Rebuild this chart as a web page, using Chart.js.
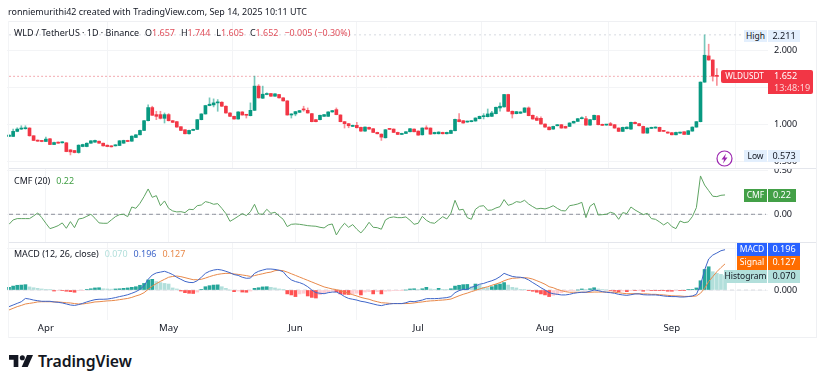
<!DOCTYPE html>
<html>
<head>
<meta charset="utf-8">
<script src="https://cdn.jsdelivr.net/npm/chart.js@4/dist/chart.umd.min.js"></script>
<style>
body { margin:0; background:#fff; width:825px; height:384px; overflow:hidden; position:relative; font-family:"Noto Sans",sans-serif; color:#131722; }
canvas { position:absolute; left:0; }
.t { position:absolute; white-space:nowrap; font-size:8.95px; line-height:12px; }
.up { color:#e0505c; }
.line { position:absolute; background:#e4e6ec; }
.b { position:absolute; font-size:9.1px; line-height:12px; text-align:center; white-space:nowrap; }
.n { font-size:8.5px; }
</style>
</head>
<body>
<canvas id="cPrice" width="825" height="147" style="top:21px"></canvas>
<canvas id="cCmf" width="825" height="73" style="top:169px"></canvas>
<canvas id="cMacd" width="825" height="95" style="top:243px"></canvas>

<div class="line" style="left:8px;top:21px;width:809px;height:1px;background:#eff0f3"></div>
<div class="line" style="left:8px;top:168px;width:809px;height:1px"></div>
<div class="line" style="left:8px;top:242px;width:809px;height:1px"></div>
<div class="line" style="left:8px;top:337px;width:809px;height:1px;background:#eff0f3"></div>
<div class="line" style="left:8px;top:21px;width:1px;height:317px;background:#f3f4f6"></div>
<div class="line" style="left:816px;top:21px;width:1px;height:317px;background:#eff0f3"></div>

<div class="t" style="left:8px;top:6px">ronniemurithi42 created with TradingView.com, Sep 14, 2025 10:11 UTC</div>
<div class="t" style="left:14px;top:27px">WLD / TetherUS · 1D · Binance<span style="margin-left:6px">O</span><span class="up">1.657</span><span style="margin-left:6px">H</span><span class="up">1.744</span><span style="margin-left:6px">L</span><span class="up">1.605</span><span style="margin-left:6px">C</span><span class="up">1.652</span><span class="up" style="margin-left:6px">−0.005 (−0.30%)</span></div>
<div class="t" style="left:14px;top:175px">CMF (20)<span style="margin-left:6px;color:#43a047">0.22</span></div>
<div class="t" style="left:14px;top:248px">MACD (12, 26, close)<span style="margin-left:6px;color:#b2dfdb">0.070</span><span style="margin-left:6px;color:#3f66c9">0.196</span><span style="margin-left:6px;color:#e8894a">0.127</span></div>

<div class="b n" style="left:744px;top:30px;width:23px;height:12px;background:#e3effd">High</div>
<div class="b" style="left:768px;top:30px;width:32px;height:12px;background:#e3effd">2.211</div>
<div class="b n" style="left:744px;top:150px;width:23px;height:12px;background:#e3effd">Low</div>
<div class="b" style="left:768px;top:150px;width:32px;height:12px;background:#e3effd">0.573</div>
<div class="b n" style="left:721px;top:70px;width:47px;height:13px;background:#f23645;color:#fff;border-radius:2px 0 0 2px;font-size:8.2px">WLDUSDT</div>
<div class="b" style="left:768px;top:70px;width:45px;height:24px;background:#f23645;color:#fff;border-radius:0 2px 2px 0;text-align:left"><div style="padding-left:6px">1.652</div><div style="padding-left:6px;color:#fcd3d6">13:48:19</div></div>
<div class="b n" style="left:744px;top:189px;width:23px;height:13px;background:#43a047;color:#fff">CMF</div>
<div class="b" style="left:768px;top:189px;width:28px;height:13px;background:#43a047;color:#fff">0.22</div>
<div class="b n" style="left:737px;top:243px;width:30px;height:13px;background:#2962ff;color:#fff">MACD</div>
<div class="b" style="left:768px;top:243px;width:32px;height:13px;background:#2962ff;color:#fff">0.196</div>
<div class="b n" style="left:737px;top:256px;width:30px;height:14px;background:#ff6d00;color:#fff">Signal</div>
<div class="b" style="left:768px;top:256px;width:32px;height:14px;background:#ff6d00;color:#fff">0.127</div>
<div class="b n" style="left:724px;top:270px;width:43px;height:13px;background:#b2dfdb">Histogram</div>
<div class="b" style="left:768px;top:270px;width:32px;height:13px;background:#b2dfdb">0.070</div>

<svg style="position:absolute;left:716px;top:150px" width="17" height="17" viewBox="0 0 17 17">
  <circle cx="8.5" cy="8.5" r="7.5" fill="#fff" stroke="#9c27b0" stroke-width="1.2"/>
  <path d="M10 3.5 5.5 9.5h2.6L7 13.5l4.5-6H8.9z" fill="#9c27b0"/>
</svg>
<svg style="position:absolute;left:9px;top:354px" width="24" height="14" viewBox="0 0 36 18">
  <path d="M0 0h14v18H7V7H0z" fill="#131722"/><circle cx="20" cy="4" r="3.8" fill="#131722"/><path d="M27 0h9l-8 18h-9z" fill="#131722"/>
</svg>
<div class="t" style="left:38px;top:350px;font-size:15.8px;line-height:22px;font-weight:600;letter-spacing:-0.1px">TradingView</div>

<script>
// values, one entry per daily candle
const opens = [
  .842,.842,.910,.941,.946,.955,.851,.792,.788,.774,
  .810,.733,.765,.756,.756,.661,.652,.625,.706,.706,
  .751,.765,.778,.751,.724,.715,.715,.720,.751,.788,
  .778,.828,.864,.923,1.054,1.231,1.136,1.136,1.086,1.136,
  1.054,1.041,.973,.932,.878,.923,.937,1.068,1.145,1.258,
  1.267,1.294,1.303,1.249,1.158,1.113,1.077,1.172,1.136,1.122,
  1.194,1.520,1.357,1.407,1.420,1.384,1.407,1.362,1.321,1.131,
  1.145,1.167,1.208,1.194,1.149,1.068,1.068,1.113,1.113,1.172,
  1.203,1.131,1.041,1.014,.977,.991,.964,.914,.964,.946,
  .896,.873,.824,.946,.941,.896,.869,.882,.905,.941,
  .914,.864,.959,.955,.878,.878,.896,.878,.882,.919,
  1.068,1.054,1.036,1.041,1.050,1.081,1.108,1.108,1.113,1.149,
  1.226,1.240,1.407,1.181,1.149,1.154,1.167,1.226,1.127,1.090,
  1.086,1.009,.968,.941,.986,1.000,.977,.977,1.023,1.045,
  1.081,1.081,.995,1.068,1.122,1.005,.995,1.014,1.000,.955,
  .910,.946,.941,1.032,1.014,.977,.887,.950,.955,.964,
  .919,.901,.892,.864,.887,.905,.869,.914,.968,1.041,
  1.574,1.927,1.872,1.657
];
const highs = [
  .865,.941,.959,.986,.986,.960,.853,.795,.790,.833,
  .815,.765,.768,.772,.760,.665,.655,.730,.738,.755,
  .787,.792,.781,.754,.727,.718,.732,.787,.792,.791,
  .850,.868,.927,1.058,1.267,1.249,1.181,1.181,1.158,1.150,
  1.058,1.045,.976,.936,.927,.940,1.072,1.149,1.262,1.362,
  1.348,1.339,1.310,1.253,1.162,1.117,1.176,1.176,1.140,1.294,
  1.655,1.540,1.520,1.430,1.424,1.420,1.411,1.366,1.325,1.149,
  1.180,1.194,1.249,1.226,1.153,1.072,1.131,1.140,1.176,1.194,
  1.226,1.135,1.045,1.018,.995,1.032,.968,.972,.968,.950,
  .900,.877,.936,.950,.945,.900,.886,.909,.950,.945,
  .918,.959,.986,.959,.900,.905,.900,.900,.927,1.076,
  1.149,1.058,1.049,1.058,1.094,1.117,1.149,1.212,1.180,1.239,
  1.294,1.411,1.411,1.185,1.180,1.176,1.230,1.240,1.131,1.113,
  1.105,1.013,.972,.981,1.004,1.004,.981,1.027,1.049,1.085,
  1.105,1.113,1.072,1.131,1.126,1.009,1.004,1.032,1.004,.959,
  .968,.972,1.036,1.040,1.018,.981,.959,.968,.972,.968,
  .923,.905,.896,.900,.900,.909,.923,.972,1.045,1.578,
  2.211,2.085,1.876,1.755
];
const lows = [
  .838,.838,.905,.935,.940,.845,.785,.775,.770,.770,
  .730,.730,.748,.752,.635,.593,.620,.616,.702,.702,
  .748,.762,.748,.712,.703,.699,.712,.717,.748,.771,
  .775,.825,.861,.920,1.050,1.124,1.068,1.077,1.023,1.050,
  1.029,.965,.920,.875,.874,.920,.934,1.065,1.142,1.254,
  1.240,1.181,1.245,1.155,1.110,1.074,1.073,1.128,1.090,1.118,
  1.190,1.358,1.352,1.403,1.380,1.380,1.358,1.318,1.128,1.090,
  1.120,1.163,1.181,1.155,1.038,1.038,1.064,1.110,1.110,1.168,
  1.133,1.038,.955,.959,.974,.956,.911,.911,.938,.893,
  .875,.788,.820,.934,.893,.866,.866,.878,.902,.902,
  .857,.860,.938,.870,.875,.875,.875,.875,.878,.915,
  1.038,1.020,1.033,1.038,1.046,1.078,1.077,1.104,1.110,1.145,
  1.181,1.236,1.178,1.090,1.146,1.150,1.163,1.119,1.074,1.056,
  1.006,.965,.929,.938,.983,.952,.952,.974,1.020,1.042,
  1.078,.992,.991,1.065,.997,.988,.992,.988,.952,.907,
  .907,.943,.938,1.011,.983,.884,.884,.947,.952,.907,
  .907,.884,.861,.861,.884,.866,.866,.911,.965,1.037,
  1.570,1.868,1.588,1.529
];
const closes = [
  .860,.910,.941,.955,.959,.851,.788,.778,.774,.806,
  .733,.760,.751,.769,.638,.634,.625,.724,.733,.751,
  .783,.788,.751,.715,.706,.702,.729,.783,.788,.774,
  .846,.864,.923,1.054,1.231,1.127,1.113,1.086,1.136,1.054,
  1.032,.968,.923,.878,.923,.937,1.068,1.145,1.258,1.276,
  1.294,1.303,1.249,1.158,1.113,1.077,1.172,1.131,1.127,1.194,
  1.520,1.362,1.411,1.420,1.384,1.416,1.362,1.321,1.131,1.145,
  1.176,1.190,1.199,1.158,1.041,1.041,1.127,1.136,1.172,1.190,
  1.136,1.041,1.014,.986,.991,.959,.914,.968,.941,.896,
  .878,.833,.932,.937,.896,.869,.882,.905,.946,.905,
  .860,.955,.941,.873,.896,.901,.878,.896,.923,1.072,
  1.041,1.023,1.045,1.054,1.090,1.113,1.118,1.145,1.158,1.235,
  1.249,1.407,1.181,1.145,1.176,1.172,1.226,1.122,1.077,1.059,
  1.009,.968,.932,.977,1.000,.955,.955,1.023,1.045,1.081,
  1.090,.995,1.068,1.127,1.000,.991,1.000,.991,.955,.910,
  .964,.968,1.032,1.014,.986,.887,.955,.964,.968,.910,
  .910,.887,.864,.896,.896,.869,.919,.968,1.041,1.574,
  1.936,1.872,1.655,1.652
];
const cmfValues = [
  -.114,-.064,-.049,-.049,-.049,-.049,-.019,.015,-.038,-.102,
  -.163,-.148,-.129,-.098,-.159,-.083,-.152,-.053,-.045,-.023,
  0,-.045,-.098,-.102,-.102,-.064,-.027,-.004,0,-.027,
  .083,.068,.125,.201,.288,.193,.212,.098,.152,.068,
  .038,.027,.030,.019,.057,.053,.098,.106,.144,.133,
  .114,.121,.068,.008,-.080,-.053,-.023,.008,-.015,.030,
  .114,.004,0,.057,.011,.023,-.019,-.057,-.140,-.114,
  -.110,-.114,-.121,-.129,-.133,-.136,-.148,-.155,-.121,-.110,
  -.235,-.159,-.102,-.148,-.117,-.170,-.212,-.159,-.091,-.148,
  -.152,-.170,-.064,-.038,-.030,-.038,-.038,-.030,-.068,-.114,
  -.102,-.023,-.068,-.095,-.102,-.064,-.027,-.053,.011,.159,
  .049,.057,-.038,-.057,.057,.091,.098,.045,.049,.072,
  .087,.167,.102,.117,.144,.136,.159,.117,.087,.061,
  .068,.061,.076,.098,.068,.042,.038,.098,.106,.117,
  .136,-.038,.091,.125,-.008,-.004,0,.023,.008,-.057,
  .019,.008,.083,.049,.023,-.004,.011,-.049,-.057,-.087,
  -.121,-.091,-.140,-.163,-.076,-.095,-.087,-.027,.076,.436,
  .333,.269,.205,.201,.216,.220
];
const macdValues = [
  -.081,-.073,-.065,-.057,-.041,-.044,-.049,-.052,-.055,-.055,
  -.055,-.058,-.060,-.063,-.068,-.073,-.075,-.071,-.065,-.058,
  -.052,-.047,-.045,-.045,-.044,-.041,-.037,-.032,-.028,-.023,
  -.016,-.008,.003,.021,.052,.073,.083,.087,.091,.084,
  .075,.062,.052,.042,.037,.036,.045,.062,.081,.091,
  .097,.100,.097,.091,.084,.075,.071,.062,.057,.058,
  .081,.091,.097,.102,.102,.100,.096,.089,.065,.049,
  .041,.036,.028,.016,0,-.013,-.016,-.018,-.013,-.010,
  -.010,-.019,-.032,-.041,-.045,-.049,-.055,-.058,-.063,-.068,
  -.073,-.076,-.071,-.068,-.066,-.066,-.066,-.062,-.055,-.057,
  -.053,-.049,-.042,-.042,-.042,-.041,-.039,-.037,-.032,-.013,
  -.003,.003,.003,.013,.019,.028,.032,.039,.045,.053,
  .065,.081,.073,.066,.063,.062,.058,.049,.036,.024,
  .011,0,-.013,-.018,-.021,-.024,-.024,-.021,-.016,-.013,
  -.011,-.011,-.006,0,-.003,-.008,-.011,-.013,-.016,-.021,
  -.024,-.026,-.023,-.019,-.019,-.023,-.024,-.024,-.024,-.026,
  -.029,-.031,-.032,-.032,-.034,-.034,-.032,-.029,-.021,.024,
  .097,.151,.170,.180,.191,.196
];
const signalValues = [
  -.097,-.089,-.081,-.075,-.068,-.065,-.062,-.058,-.057,-.057,
  -.057,-.058,-.058,-.060,-.062,-.063,-.066,-.068,-.068,-.065,
  -.062,-.058,-.057,-.055,-.053,-.052,-.050,-.047,-.044,-.041,
  -.036,-.029,-.023,-.013,.003,.019,.031,.042,.052,.062,
  .066,.068,.065,.060,.055,.050,.050,.052,.058,.065,
  .071,.076,.079,.081,.081,.078,.076,.073,.070,.066,
  .070,.075,.079,.084,.087,.094,.096,.094,.087,.079,
  .071,.063,.055,.047,.039,.031,.023,.015,.010,.005,
  .002,-.003,-.010,-.016,-.023,-.029,-.036,-.041,-.045,-.052,
  -.057,-.062,-.063,-.065,-.066,-.066,-.066,-.066,-.065,-.063,
  -.060,-.058,-.055,-.053,-.052,-.050,-.049,-.047,-.044,-.036,
  -.028,-.021,-.015,-.008,-.002,.005,.011,.016,.023,.029,
  .036,.045,.052,.057,.058,.060,.060,.058,.053,.045,
  .037,.028,.016,.011,.003,-.003,-.008,-.011,-.011,-.011,
  -.011,-.011,-.011,-.010,-.010,-.010,-.010,-.011,-.011,-.013,
  -.016,-.018,-.018,-.018,-.018,-.019,-.019,-.021,-.021,-.023,
  -.024,-.026,-.028,-.029,-.029,-.031,-.031,-.031,-.029,-.016,
  .008,.041,.065,.089,.109,.127
];
const histValues = [
  .013,.019,.023,.024,.026,.015,.011,.008,.005,.003,
  .002,-.005,-.002,-.002,-.006,-.008,-.011,-.003,-.002,.003,
  .006,.010,.011,.006,.005,.004,.005,.006,.008,.010,
  .013,.016,.023,.032,.049,.052,.041,.036,.032,.029,
  .010,.005,-.005,-.013,-.016,-.017,-.010,.003,.016,.021,
  .024,.025,.016,.008,0,-.008,-.005,-.010,-.011,-.005,
  .008,.011,.015,.016,.013,.010,.005,.002,-.019,-.024,
  -.032,-.019,-.016,-.029,-.036,-.039,-.023,-.016,-.010,-.005,
  -.008,-.019,-.021,-.022,-.019,-.016,-.024,-.010,-.008,-.019,
  -.008,-.019,-.006,-.005,-.003,-.002,-.001,0,.005,.006,
  .003,.006,.013,.005,.003,.008,.003,.002,.006,.019,
  .023,.026,.027,.016,.029,.024,.013,.011,.016,.026,
  .029,.036,.024,.013,.010,.003,.002,-.003,-.006,-.011,
  -.019,-.024,-.032,-.026,-.023,-.013,-.006,-.003,-.001,0,
  .005,.002,.006,.011,.005,.002,0,-.002,-.006,-.008,
  -.005,-.008,-.002,-.002,-.001,-.006,-.002,-.002,-.002,-.003,
  -.003,-.006,-.006,-.002,-.002,-.003,.002,.003,.010,.045,
  .100,.113,.089,.081,.076,.070
];
const monthLabels = ['Apr','May','Jun','Jul','Aug','Sep'];
const monthSlots = [9,39,70,100,131,162];
const priceTicks = [.5,1,1.5,2];
const cmfTicks = [0,.5];
const macdTicks = [0,.2];
const lastPrice = 1.652, highPrice = 2.211;

const SLOTS = 186;   // the axis runs on past the last candle
const UP = '#089981', DOWN = '#f23645';
const UP_WICK = 'rgba(8,153,129,0.55)', DOWN_WICK = 'rgba(242,54,69,0.55)';
const tickFont = { family:'"Noto Sans",sans-serif', size:9.1 };
const GRID = '#f3f4f6';

const slots = Array.from({length:SLOTS}, (_,i) => {
    const m = monthSlots.indexOf(i);
    return m >= 0 ? monthLabels[m] : '';
});
const flat = v => Array(SLOTS).fill(v);
const candleColors = closes.map((c,i) => c >= opens[i] ? UP : DOWN);
const wickColors = closes.map((c,i) => c >= opens[i] ? UP_WICK : DOWN_WICK);

function xAxis(showLabels) {
    return {
        offset:true, border:{display:false},
        grid:{color:GRID, drawTicks:false},
        ticks:{display:showLabels, autoSkip:false, maxRotation:0, color:'#131722', font:{family:tickFont.family, size:9.6}, padding:3},
        afterBuildTicks: ax => { ax.ticks = monthSlots.map(v => ({value:v})); },
        afterFit: ax => { ax.paddingLeft = 0; ax.paddingRight = 0; ax.height = showLabels ? 18 : 0; }
    };
}
function yAxis(min, max, ticks, digits) {
    return {
        position:'right', min, max, border:{display:false},
        grid:{color:GRID, drawTicks:false},
        ticks:{color:'#131722', font:tickFont, padding:6, callback:v => v.toFixed(digits)},
        afterBuildTicks: ax => { ax.ticks = ticks.map(v => ({value:v})); },
        afterFit: ax => { ax.width = 57; ax.paddingTop = 0; ax.paddingBottom = 0; }
    };
}
function baseOptions(showLabels, y) {
    return {
        responsive:false, animation:false, devicePixelRatio:1,
        layout:{padding:{left:7, right:0, top:0, bottom:0}},
        plugins:{legend:{display:false}, tooltip:{enabled:false}},
        scales:{x:xAxis(showLabels), y}
    };
}
const level = (v, color, dash) => ({type:'line', data:flat(v), borderColor:color, borderWidth:1, borderDash:dash, pointRadius:0, order:5});

new Chart(document.getElementById('cPrice'), {
    data:{labels:slots, datasets:[
        {type:'bar', data:closes.map((c,i) => [opens[i],c]), backgroundColor:candleColors, barThickness:3, minBarLength:1, grouped:false, order:1},
        {type:'bar', data:highs.map((h,i) => [lows[i],h]), backgroundColor:wickColors, barThickness:1, grouped:false, order:2},
        level(lastPrice, '#f2a8ae', [2,2]),
        level(highPrice, '#d5d8df', [2,3])
    ]},
    options:baseOptions(false, yAxis(.4166, 2.3976, priceTicks, 3))
});

new Chart(document.getElementById('cCmf'), {
    data:{labels:slots, datasets:[
        {type:'line', data:cmfValues, borderColor:'#5fa463', borderWidth:1, pointRadius:0, tension:0, order:1},
        level(0, '#8a8e99', [4,3])
    ]},
    options:baseOptions(false, yAxis(-.315, .515, cmfTicks, 2))
});

new Chart(document.getElementById('cMacd'), {
    data:{labels:slots, datasets:[
        {type:'line', data:macdValues, borderColor:'#3f66c9', borderWidth:1, pointRadius:0, tension:0, order:1},
        {type:'line', data:signalValues, borderColor:'#e8894a', borderWidth:1, pointRadius:0, tension:0, order:1},
        {type:'bar', data:histValues, barThickness:3, grouped:false, order:3,
         backgroundColor: ctx => {
             const v = histValues[ctx.dataIndex], prev = ctx.dataIndex ? histValues[ctx.dataIndex-1] : 0;
             if (v >= 0) return v > prev ? '#26a69a' : '#b2dfdb';
             return v > prev ? '#ffcdd2' : '#ff5252';
         }},
        level(0, '#d9dbe1', [4,3])
    ]},
    options:baseOptions(true, yAxis(-.1459, .2286, macdTicks, 3))
});
</script>
</body>
</html>
